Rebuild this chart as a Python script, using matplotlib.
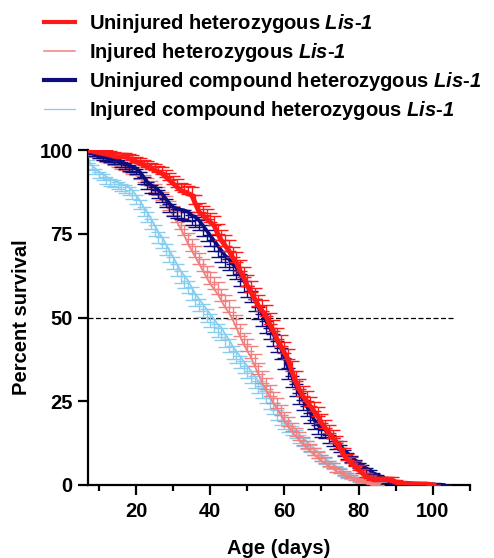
import matplotlib
matplotlib.use("Agg")
import matplotlib.pyplot as plt
from matplotlib.lines import Line2D
from matplotlib.ticker import MultipleLocator
import numpy as np

plt.rcParams['font.family'] = ['Liberation Sans', 'DejaVu Sans']
plt.rcParams['font.weight'] = 'bold'
plt.rcParams['mathtext.fontset'] = 'custom'
plt.rcParams['mathtext.rm'] = 'Liberation Sans:bold:italic'
plt.rcParams['mathtext.it'] = 'Liberation Sans:bold:italic'

# age in days, one point per day from day 7
age = list(range(7, 104))

# uninjured heterozygous (red), SEM shown above
unh = [100, 99.8, 99.5, 99.2, 99, 98.8, 98.5, 98.2, 98, 98,
       98, 97.5, 97, 96.5, 96, 95.5, 95, 94.5, 94, 93.5,
       93, 92, 91, 90, 89, 88, 87.5, 87, 86.5, 84,
       81.5, 80.5, 79.5, 78.5, 77.5, 75, 73, 71.5, 70, 68,
       66.5, 64, 62, 59.5, 57.5, 55.5, 53.5, 52, 50.5, 48,
       46, 43.5, 41.5, 39.5, 37.5, 34, 31, 28.5, 26.5, 25,
       23.5, 22, 20.5, 18.5, 17, 15.5, 14, 12.5, 11, 9,
       7.5, 6.5, 5.5, 4.5, 3.5, 2.5, 2, 1.5, 1.5, 1.5,
       1.5, 1.5, 1.5, 0.8, 0.5, 0.5, 0.5, 0.3, 0.3, 0.3,
       0.3, 0.3, 0.2, 0]
unh_err = [0, 0.5, 0.8, 0.9, 1, 1.1, 1.1, 1.2, 1.2, 1.2,
           1.2, 1.3, 1.4, 1.5, 1.6, 1.6, 1.7, 1.7, 1.8, 1.8,
           1.9, 2, 2.1, 2.2, 2.3, 2.3, 2.4, 2.4, 2.5, 2.6,
           2.7, 2.7, 2.8, 2.8, 2.9, 3, 3, 3, 3.1, 3.1,
           3.2, 3.2, 3.2, 3.2, 3.3, 3.3, 3.3, 3.3, 3.3, 3.3,
           3.3, 3.3, 3.3, 3.2, 3.2, 3.1, 3.1, 3, 3, 2.9,
           2.8, 2.7, 2.7, 2.6, 2.5, 2.4, 2.3, 2.2, 2.1, 1.9,
           1.8, 1.7, 1.6, 1.4, 1.3, 1.1, 1, 0.9, 0.8, 0.8,
           0.8, 0.8, 0.8, 0.6, 0.5, 0.5, 0.5, 0.4, 0.4, 0.4,
           0.4, 0.4, 0.3, 0]

# injured heterozygous (pink), SEM above
inh = [99.5, 98.5, 98, 97.5, 97, 96.5, 96, 95.5, 95, 94.5,
       94, 93.5, 93, 92.5, 91.5, 90.5, 89.5, 88.5, 87.5, 86.5,
       85, 83.5, 82, 80.5, 78.5, 76.5, 74.5, 72, 70, 68,
       66, 64, 62, 60, 58.5, 57, 55, 53, 51.5, 49.5,
       47, 44.5, 42, 40, 38, 35.5, 33, 30.5, 28.5, 26.5,
       24.5, 23, 21, 19, 17.5, 16, 14.5, 13.5, 12, 11,
       10, 9, 8, 7, 6.5, 5.5, 5, 4, 3.5, 3,
       2.5, 2, 1.5, 1.2, 1, 0.8, 0.5, 0.3, 0]
inh_err = [0.5, 0.8, 1, 1.1, 1.2, 1.3, 1.4, 1.4, 1.5, 1.5,
           1.6, 1.7, 1.8, 1.9, 2, 2.1, 2.2, 2.3, 2.4, 2.5,
           2.6, 2.7, 2.8, 2.9, 3, 3.1, 3.2, 3.2, 3.3, 3.3,
           3.4, 3.4, 3.5, 3.5, 3.5, 3.5, 3.6, 3.6, 3.6, 3.6,
           3.6, 3.6, 3.5, 3.5, 3.5, 3.5, 3.5, 3.4, 3.3, 3.2,
           3.1, 3, 2.9, 2.8, 2.7, 2.6, 2.5, 2.4, 2.3, 2.2,
           2.1, 2, 1.9, 1.8, 1.7, 1.6, 1.5, 1.4, 1.3, 1.2,
           1.1, 1, 0.9, 0.8, 0.7, 0.6, 0.5, 0.4, 0]

# uninjured compound heterozygous (navy), SEM below
unc = [100, 99.5, 99, 98.5, 98, 97.8, 97.5, 97.2, 97, 96.5,
       96, 95.5, 95, 94.5, 93.5, 92, 90.5, 89.5, 89, 88,
       87, 85.5, 84, 83, 82.5, 82.2, 82, 81.5, 80.5, 80,
       79, 77.5, 76, 74.5, 73, 71.5, 70, 68.5, 67.5, 66,
       65, 63, 61, 59.5, 58, 55.5, 53, 51, 49, 47,
       45, 43, 41, 38, 35, 32.5, 30, 27.5, 25.5, 23.5,
       21.5, 19.5, 18, 17, 16.5, 15, 14, 13, 12, 10.5,
       9.5, 8.5, 7.5, 6.5, 6, 5, 4.5, 3.5, 3, 2.5,
       2, 1.5, 1.3, 1, 0.8, 0.6, 0.5, 0.5, 0.4, 0.4,
       0.3, 0.3, 0.2, 0.2, 0.1, 0.1, 0]
unc_err = [0, 0.6, 0.8, 1, 1.1, 1.2, 1.2, 1.3, 1.3, 1.4,
           1.5, 1.6, 1.6, 1.7, 1.8, 2, 2.1, 2.2, 2.2, 2.3,
           2.4, 2.5, 2.6, 2.6, 2.7, 2.7, 2.8, 2.8, 2.9, 2.9,
           3, 3.1, 3.1, 3.2, 3.2, 3.3, 3.3, 3.4, 3.4, 3.4,
           3.4, 3.5, 3.5, 3.5, 3.5, 3.5, 3.5, 3.5, 3.5, 3.5,
           3.5, 3.4, 3.4, 3.4, 3.4, 3.3, 3.3, 3.2, 3.1, 3,
           2.9, 2.8, 2.7, 2.6, 2.5, 2.4, 2.3, 2.2, 2.1, 2,
           1.9, 1.8, 1.7, 1.6, 1.5, 1.4, 1.3, 1.2, 1.1, 1,
           0.9, 0.8, 0.7, 0.6, 0.6, 0.5, 0.5, 0.5, 0.4, 0.4,
           0.3, 0.3, 0.2, 0.2, 0.2, 0.1, 0]

# injured compound heterozygous (light blue), SEM below
inc = [97, 95.5, 94.5, 93.5, 93, 92, 91.5, 91, 90.5, 90,
       89.5, 89, 88, 86.5, 85, 83, 81.5, 79.5, 77.5, 75.5,
       74, 72, 70, 68, 66, 64, 62.5, 61, 59, 57,
       55.5, 54, 52.5, 51, 49.5, 48, 47, 45, 43.5, 41.5,
       40, 38.5, 37, 35.5, 34, 32.5, 31, 29.5, 28, 26,
       24.5, 22.5, 21, 19.5, 18.5, 17.5, 16.5, 15, 14, 13,
       12, 11, 10, 9, 8, 7, 6.5, 5.5, 5, 4,
       3.5, 3, 2.5, 2, 1.5, 1.2, 1, 0.8, 0.5, 0.3,
       0]
inc_err = [1, 1.4, 1.6, 1.8, 1.9, 2, 2.1, 2.1, 2.2, 2.2,
           2.3, 2.4, 2.5, 2.6, 2.7, 2.8, 2.9, 3, 3.1, 3.2,
           3.3, 3.3, 3.4, 3.5, 3.5, 3.6, 3.6, 3.7, 3.7, 3.7,
           3.7, 3.8, 3.8, 3.8, 3.8, 3.8, 3.8, 3.8, 3.8, 3.8,
           3.7, 3.7, 3.7, 3.6, 3.6, 3.5, 3.5, 3.4, 3.4, 3.3,
           3.3, 3.1, 3, 2.9, 2.8, 2.7, 2.6, 2.6, 2.5, 2.4,
           2.3, 2.2, 2.1, 2, 1.9, 1.8, 1.7, 1.6, 1.5, 1.4,
           1.3, 1.2, 1.1, 1, 0.9, 0.8, 0.7, 0.6, 0.5, 0.4,
           0]

labels = ["Uninjured heterozygous $Lis$-$1$",
          "Injured heterozygous $Lis$-$1$",
          "Uninjured compound heterozygous $Lis$-$1$",
          "Injured compound heterozygous $Lis$-$1$"]
red = "#ff1a1a"
pink = "#f08080"
navy = "#0d0d80"
lblue = "#87cdf0"

fig = plt.figure(figsize=(4.94, 5.58), dpi=100)
ax = fig.add_axes([0.178, 0.131, 0.773, 0.600])


def draw(vals, err, col, lw, up, z):
    n = len(vals)
    e = np.array(err)
    zero = np.zeros(n)
    yerr = [zero, e] if up else [e, zero]
    ax.errorbar(age[:n], vals, yerr=yerr, color=col, lw=lw, elinewidth=1.0,
                capsize=5, capthick=1.0, zorder=z)


draw(inc, inc_err, lblue, 1.3, False, 2)
draw(inh, inh_err, pink, 1.3, True, 3)
draw(unc, unc_err, navy, 2.6, False, 4)
draw(unh, unh_err, red, 3.5, True, 5)

ax.hlines(50, 7, 106, colors="black", linestyles=(0, (4, 2)), lw=0.9, zorder=1)

ax.set_xlim(7, 110)
ax.set_ylim(0, 100)
ax.set_xticks([20, 40, 60, 80, 100])
ax.xaxis.set_minor_locator(MultipleLocator(10))
ax.set_yticks([0, 25, 50, 75, 100])
for s in ["top", "right"]:
    ax.spines[s].set_visible(False)
for s in ["left", "bottom"]:
    ax.spines[s].set_linewidth(1.6)
ax.tick_params(axis="both", which="major", length=7, width=1.6, labelsize=14.5)
ax.tick_params(axis="x", which="major", pad=5)
ax.tick_params(axis="y", which="major", pad=4)
ax.tick_params(axis="x", which="minor", length=4.5, width=1.6)
ax.set_xlabel("Age (days)", fontsize=14.5, fontweight="bold", labelpad=13)
ax.set_ylabel("Percent survival", fontsize=14.5, fontweight="bold", labelpad=6)

handles = [Line2D([], [], color=red, lw=3),
           Line2D([], [], color=pink, lw=1.1),
           Line2D([], [], color=navy, lw=3),
           Line2D([], [], color=lblue, lw=0.9)]
fig.legend(handles, labels, loc="upper left", bbox_to_anchor=(0.09, 0.978),
           frameon=False, fontsize=14.5, handlelength=1.5, handletextpad=0.7,
           labelspacing=0.3, borderpad=0, borderaxespad=0)

fig.savefig("out.png", dpi=100)
